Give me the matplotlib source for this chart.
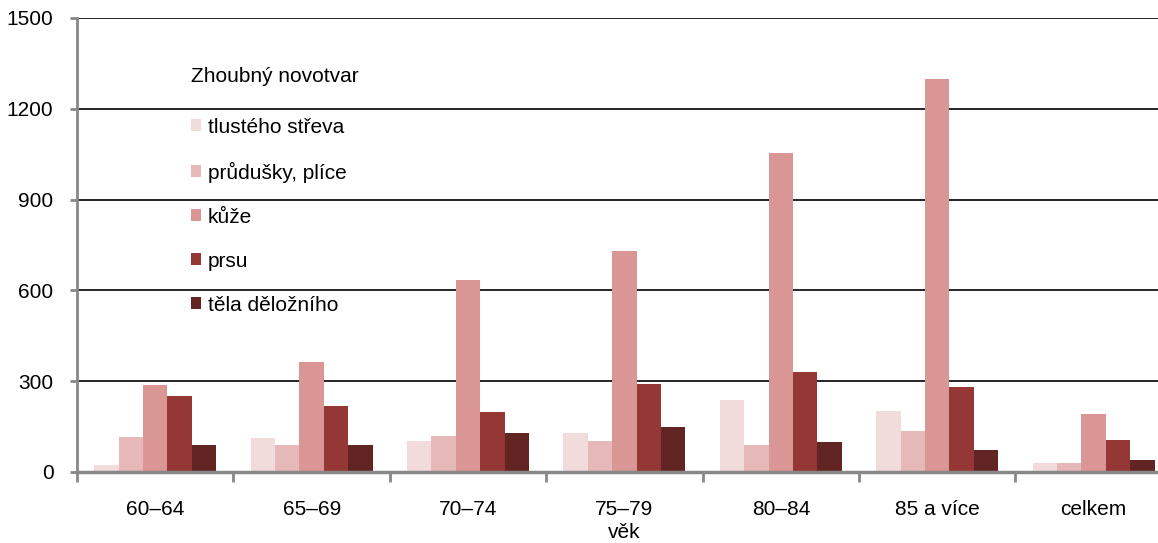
import numpy as np
import matplotlib.pyplot as plt
from matplotlib.ticker import FixedLocator

plt.rcParams['font.family'] = ['Liberation Sans', 'DejaVu Sans']

# vekove skupiny
vek = ['60–64', '65–69', '70–74', '75–79', '80–84', '85 a více', 'celkem']

# zhoubne novotvary
tlusteho_streva = [23, 113, 103, 130, 237, 203, 30]
prudusky_plice = [117, 90, 120, 103, 90, 137, 30]
kuze = [287, 363, 635, 730, 1055, 1300, 193]
prsu = [250, 217, 197, 290, 330, 280, 107]
tela_delozniho = [90, 90, 130, 150, 100, 73, 40]

serie = [tlusteho_streva, prudusky_plice, kuze, prsu, tela_delozniho]
nazvy = ['tlustého střeva', 'průdušky, plíce', 'kůže', 'prsu', 'těla děložního']
barvy = ['#F2DCDB', '#E6B9B8', '#D99694', '#953735', '#632523']

fig = plt.figure(figsize=(11.58, 5.43), dpi=100)
ax = fig.add_axes([0.0665, 0.1308, 0.9455, 0.8361])

x = np.arange(len(vek))
w = 0.156
for i, (vals, nm, c) in enumerate(zip(serie, nazvy, barvy)):
    ax.bar(x + (i - 2) * w, vals, w, color=c, label=nm, zorder=3)

ax.set_xlim(-0.5, len(vek) - 0.5)
ax.set_ylim(0, 1500)
ax.set_yticks(np.arange(0, 1501, 300))
ax.yaxis.grid(True, color='black', linewidth=1.2, zorder=0)
ax.set_axisbelow(True)

# kategorie: ticky na hranicich, popisky uprostred
ax.xaxis.set_major_locator(FixedLocator(np.arange(len(vek) + 1) - 0.5))
ax.xaxis.set_minor_locator(FixedLocator(x))
ax.set_xticklabels([], minor=False)
ax.set_xticklabels(vek, minor=True)
ax.tick_params(axis='x', which='major', length=7, width=2, color='#888888', direction='out')
ax.tick_params(axis='x', which='minor', length=0, pad=20, labelsize=15)
ax.tick_params(axis='y', length=5, width=2, color='#888888', direction='out', labelsize=15, pad=12)

for s in ['top', 'right']:
    ax.spines[s].set_visible(False)
ax.spines['left'].set_color('#888888')
ax.spines['left'].set_linewidth(2)
ax.spines['bottom'].set_color('#888888')
ax.spines['bottom'].set_linewidth(2.5)
ax.spines['bottom'].set_zorder(4)

ax.set_xlabel('věk', fontsize=15, labelpad=3)

leg = ax.legend(title='Zhoubný novotvar', loc='upper left', bbox_to_anchor=(0.087, 0.934),
                frameon=False, fontsize=15, title_fontsize=15, handlelength=0.5,
                handleheight=0.5, handletextpad=0.3, labelspacing=1.2,
                alignment='left')
leg._legend_box.sep = 23

fig.savefig('out.png', dpi=100)
